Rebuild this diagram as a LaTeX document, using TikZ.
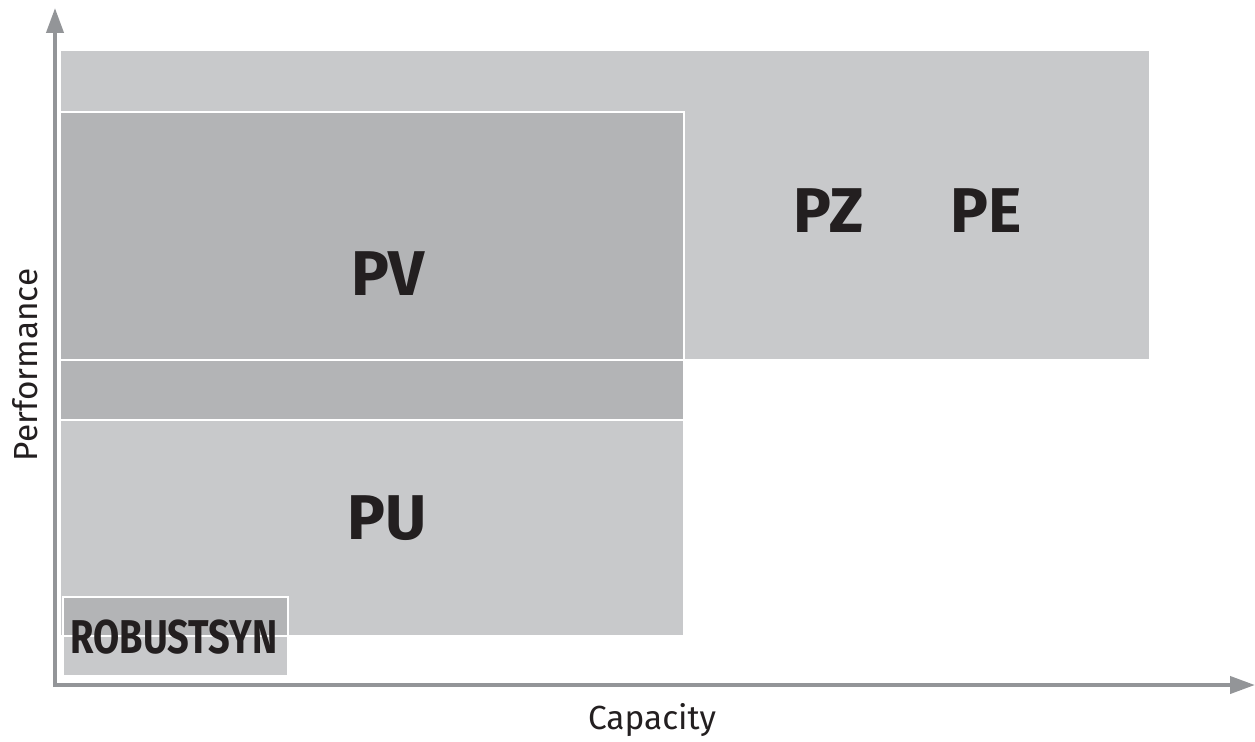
\documentclass[tikz,border=0pt]{standalone}
\usepackage{fontspec}
\usepackage{graphicx}
\setmainfont{Fira Sans}
\usetikzlibrary{arrows.meta}
\definecolor{boxlight}{HTML}{C8C9CB}
\definecolor{boxdark}{HTML}{B3B4B6}
\definecolor{axisgray}{HTML}{939598}
\definecolor{ink}{HTML}{231F20}

\begin{document}
\begin{tikzpicture}[x=0.02cm, y=-0.02cm,
    region/.style={draw=white, line width=1.1pt},
    axis/.style={draw=axisgray, line width=2.3pt, -{Triangle[length=0.5cm, width=0.34cm]}},
    biglabel/.style={text=ink, font=\fontsize{36}{40}\selectfont\bfseries, inner sep=0pt},
    axislabel/.style={text=ink, font=\fontsize{19}{22}\selectfont, inner sep=0pt}]
    \useasboundingbox (0,0) rectangle (1255,741);

    % regions
    \fill[boxlight] (60,50) rectangle (1150,360);
    \draw[region] (60,50) rectangle (1150,360);
    \filldraw[region, fill=boxdark] (60,112) rectangle (684,420);
    \draw[region] (60,360) -- (684,360);
    \filldraw[region, fill=boxlight] (60,420) rectangle (684,636);
    \filldraw[region, fill=boxlight] (63,597) rectangle (288,676);
    \fill[boxdark] (63,597) rectangle (288,636);
    \draw[region] (63,597) rectangle (288,676);
    \draw[region] (60,636) -- (684,636);

    % axes
    \coordinate (origin) at (55,685);
    \coordinate (ytop) at (55,8);
    \coordinate (xend) at (1255,685);
    \draw[axis] ([yshift=-0.04cm]origin) -- (ytop);
    \draw[axis] ([xshift=-0.04cm]origin) -- (xend);

    % labels
    \node[biglabel] (pv) at (388,274) {PV};
    \node[biglabel] (pu) at (387,518) {PU};
    \node[biglabel] (pz) at (829,211) {PZ};
    \node[biglabel] (pe) at (986,211) {PE};
    \node[text=ink, font=\fontsize{27}{30}\selectfont\bfseries, inner sep=0pt] (robust) at (174,637) {\scalebox{0.8}[1]{ROBUSTSYN}};
    \node[axislabel, rotate=90] (perf) at (25,365) {Performance};
    \node[axislabel] (cap) at (652,720) {Capacity};
\end{tikzpicture}
\end{document}
